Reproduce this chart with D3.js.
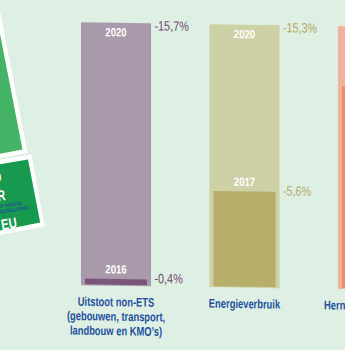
<!DOCTYPE html>
<html>
<head>
<meta charset="utf-8">
<script src="https://cdn.jsdelivr.net/npm/d3@7"></script>
<style>
  html, body { margin: 0; padding: 0; background: #deefe3; overflow: hidden; }
  svg { display: block; }
</style>
</head>
<body>
<svg id="chart" width="345" height="350"></svg>
<script>
// Flemish 2020 targets versus progress so far
const categories = ["Uitstoot non-ETS", "Energieverbruik", "Hernieuwbare energie"];
const categoryLines = [
  ["Uitstoot non-ETS", "(gebouwen, transport,", "landbouw en KMO’s)"],
  ["Energieverbruik"],
  ["Hernieuwbare energie"]
];
const targetYears = ["2020", "2020", "2020"];
const targetValues = [-15.7, -15.3, 10.5];
const currentYears = ["2016", "2017", "2017"];
const currentValues = [-0.4, -5.6, 8.1];

const outerColors = ["#a99aab", "#cdd1a5", "#efb39b"];
const innerColors = ["#7b567b", "#b6ae69", "#f08a6a"];
const valueColors = ["#6f4a72", "#b3ab69", "#e8805f"];
const labelBlue = "#1d4f9f";
const FONT = "'Liberation Sans', Arial, sans-serif";

const nl = d3.formatLocale({decimal: ",", thousands: ".", grouping: [3], currency: ["€", ""], minus: "-"});
const pct = v => nl.format(".1f")(v) + "%";

// condensed lettering: regular glyphs squeezed horizontally
const squeeze = (px, py, sx) => `translate(${px},${py}) scale(${sx},1)`;

const svg = d3.select("#chart");

// decorative cover panels on the left edge
const deco = svg.append("g");
const panels = [
  {fill: "#ffffff", pts: [[-10, -10], [-4.2, -10], [27.6, 153], [-10, 160.3]]},
  {fill: "#45b366", pts: [[-10, -10], [-8.6, -10], [22.5, 149.5], [-10, 155.8]]},
  {fill: "#ffffff", pts: [[-10, 161.5], [31.5, 154.5], [44.5, 226.5], [-10, 237]]},
  {fill: "#17994f", pts: [[-10, 166], [28, 159.5], [40.2, 222.5], [-10, 232.5]]}
];
deco.selectAll("polygon").data(panels).join("polygon")
  .attr("points", d => d.pts.map(p => p.join(",")).join(" "))
  .attr("fill", d => d.fill);

const coverText = deco.append("g").attr("transform", "rotate(-9, 0, 200)")
  .attr("font-family", FONT).attr("font-weight", "bold").attr("text-anchor", "end");
const coverLines = [
  {t: "GOED", px: 5, py: 182, size: 15, fill: "#ffffff"},
  {t: "VOOR", px: 6, py: 201, size: 15, fill: "#ffffff"},
  {t: "WAT VOOR DE", px: 21, py: 208, size: 5, fill: "#1c4f9c"},
  {t: "KLIMAATDOELSTELLINGEN", px: 27, py: 213.5, size: 5, fill: "#1c4f9c"},
  {t: "DE EU", px: 13, py: 230, size: 15, fill: "#ffffff"}
];
coverText.selectAll("text").data(coverLines).join("text")
  .attr("transform", d => squeeze(d.px, d.py, 0.75))
  .attr("font-size", d => d.size)
  .attr("fill", d => d.fill)
  .text(d => d.t);

// bar chart, with the slight slant of the printed page
const chart = svg.append("g").attr("transform", "skewY(0.85)");

const x = d3.scaleBand().domain(categories).range([81, 408]).paddingInner(0.455).paddingOuter(0);
const y = d3.scaleLinear().domain([0, 1]).range([284, 21.1]);
const inset = 4;
const share = i => currentValues[i] / targetValues[i];
const mid = d => x(d) + x.bandwidth() / 2;

const groups = chart.selectAll("g.bar").data(categories).join("g").attr("class", "bar");

// full bar: the 2020 target
groups.append("rect")
  .attr("x", d => x(d))
  .attr("width", x.bandwidth())
  .attr("y", y(1))
  .attr("height", y(0) - y(1))
  .attr("fill", (d, i) => outerColors[i]);

// inner bar: share of the target reached so far
groups.append("rect")
  .attr("x", d => x(d) + inset)
  .attr("width", x.bandwidth() - 2 * inset)
  .attr("y", (d, i) => y(share(i)))
  .attr("height", (d, i) => y(0) - 1 - y(share(i)))
  .attr("fill", (d, i) => innerColors[i]);

// year labels inside the bars
groups.append("text")
  .attr("transform", d => squeeze(mid(d), y(1) + 13.5, 0.8))
  .attr("text-anchor", "middle")
  .attr("font-family", FONT).attr("font-weight", "bold").attr("font-size", 12)
  .attr("fill", "#ffffff")
  .text((d, i) => targetYears[i]);

groups.append("text")
  .attr("transform", (d, i) => squeeze(mid(d), y(share(i)) - 5.5, 0.8))
  .attr("text-anchor", "middle")
  .attr("font-family", FONT).attr("font-weight", "bold").attr("font-size", 12)
  .attr("fill", "#ffffff")
  .text((d, i) => currentYears[i]);

// value labels to the right of the bars
groups.append("text")
  .attr("transform", d => squeeze(x(d) + x.bandwidth() + 3.5, y(1) + 7, 0.8))
  .attr("font-family", FONT).attr("font-size", 13.5)
  .attr("fill", (d, i) => valueColors[i])
  .text((d, i) => pct(targetValues[i]));

groups.append("text")
  .attr("transform", (d, i) => squeeze(x(d) + x.bandwidth() + 3.5, y(share(i)) + 3.5, 0.8))
  .attr("font-family", FONT).attr("font-size", 13.5)
  .attr("fill", (d, i) => valueColors[i])
  .text((d, i) => pct(currentValues[i]));

// category names under the bars
groups.append("text")
  .attr("transform", d => squeeze(mid(d), y(0) + 20.5, 0.75))
  .attr("text-anchor", "middle")
  .attr("font-family", FONT).attr("font-weight", "bold").attr("font-size", 12.5)
  .attr("fill", labelBlue)
  .each(function (d, i) {
    d3.select(this).selectAll("tspan").data(categoryLines[i]).join("tspan")
      .attr("x", 0)
      .attr("y", (t, j) => j * 14.5)
      .text(t => t);
  });
</script>
</body>
</html>
